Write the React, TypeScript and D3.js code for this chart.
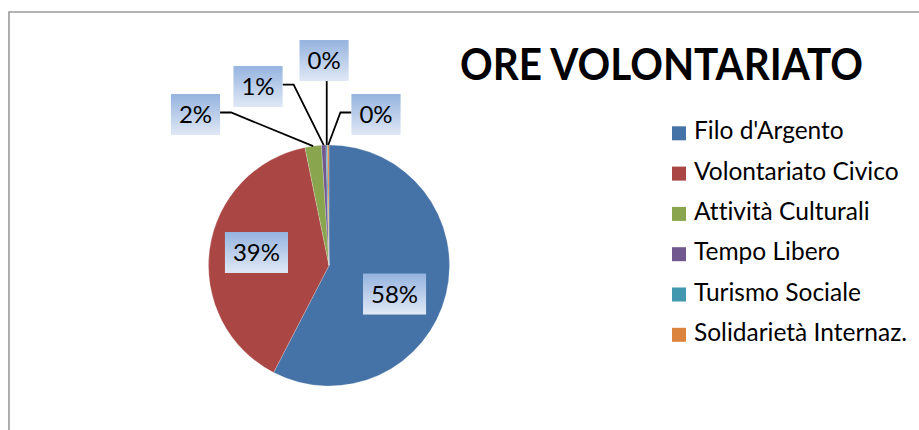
import React, { useMemo } from "react";
import * as d3 from "d3";

const categories = [
  "Filo d'Argento",
  "Volontariato Civico",
  "Attività Culturali",
  "Tempo Libero",
  "Turismo Sociale",
  "Solidarietà Internaz.",
];
const values = [57.6, 39.2, 2.2, 0.6, 0.2, 0.2];
const colors = ["#4572A7", "#AA4643", "#89A54E", "#71588F", "#4198AF", "#DB843D"];
const title = "ORE VOLONTARIATO";

// label box centres relative to pie centre, in units of the radius (layout)
const labelOffsets: [number, number][] = [
  [0.544, 0.237],
  [-0.602, -0.108],
  [-1.108, -1.253],
  [-0.589, -1.485],
  [-0.041, -1.701],
  [0.39, -1.253],
];

const W = 919;
const H = 430;
const FONT = "Lato, 'Open Sans', sans-serif";

function measure(text: string, size: number, weight = "normal") {
  const c = document.createElement("canvas").getContext("2d")!;
  c.font = `${weight} ${size}px Lato, 'Open Sans', sans-serif`;
  return c.measureText(text).width;
}

export default function App() {
  const cx = 329;
  const cy = 265.5;
  const r = 120.5;
  const total = d3.sum(values);

  const arcs = useMemo(
    () =>
      d3
        .pie<number>()
        .sort(null)
        .value((d) => d)(values),
    []
  );
  const arcGen = d3.arc<d3.PieArcDatum<number>>().innerRadius(0).outerRadius(r);

  const labelSize = 24;
  const boxH = 41;

  const labels = arcs.map((a, i) => {
    const txt = `${Math.round((values[i] / total) * 100)}%`;
    const tw = measure(txt, labelSize);
    const bw = Math.max(tw + 16, 49);
    const bx = cx + labelOffsets[i][0] * r;
    const by = cy + labelOffsets[i][1] * r;
    const x0 = bx - bw / 2;
    const x1 = bx + bw / 2;
    const y0 = by - boxH / 2;
    const y1 = by + boxH / 2;
    const mid = (a.startAngle + a.endAngle) / 2;
    const px = cx + Math.sin(mid) * r;
    const py = cy - Math.cos(mid) * r;
    const dist = Math.hypot(bx - cx, by - cy);
    let leader: string | null = null;
    if (dist > r) {
      if (px >= x0 && px <= x1) {
        leader = `M${px},${y1}L${px},${py}`;
      } else if (px > x1) {
        leader = `M${x1},${by - 2}L${x1 + 11},${by - 2}L${px},${py}`;
      } else {
        leader = `M${x0},${by - 2}L${x0 - 11},${by - 2}L${px},${py}`;
      }
    }
    return { txt, bx, by, bw, x0, y0, leader };
  });

  const legendX = 672;
  const legendY0 = 139.3;
  const legendStep = 40.3;

  return (
    <svg
      width={W}
      height={H}
      style={{
        position: "absolute",
        left: 0,
        top: 0,
        background: "#fff",
        fontVariantLigatures: "none",
      }}
      fontFamily={FONT}
    >
      <defs>
        <linearGradient id="lblGrad" x1="0" y1="0" x2="0" y2="1">
          <stop offset="0" stopColor="#95B3DF" />
          <stop offset="1" stopColor="#E0E8F5" />
        </linearGradient>
      </defs>
      <rect width={W} height={H} fill="#fff" />
      <path d={`M9,${H}V12H${W}`} fill="none" stroke="#9a9a9a" strokeWidth={1.6} />

      <g transform={`translate(${cx},${cy})`}>
        {arcs.map((a, i) => (
          <path
            key={i}
            d={arcGen(a) || ""}
            fill={colors[i]}
            stroke="#ffffff"
            strokeOpacity={0.35}
            strokeWidth={0.6}
          />
        ))}
      </g>

      {labels.map((l, i) =>
        l.leader ? (
          <path key={"ld" + i} d={l.leader} fill="none" stroke="#000" strokeWidth={1.8} />
        ) : null
      )}

      {labels.map((l, i) => (
        <g key={"lb" + i}>
          <rect x={l.x0} y={l.y0} width={l.bw} height={boxH} fill="url(#lblGrad)" />
          <text
            x={l.bx}
            y={l.by + labelSize * 0.36}
            textAnchor="middle"
            fontSize={labelSize}
            fill="#000"
          >
            {l.txt}
          </text>
        </g>
      ))}

      <text
        x={460}
        y={80}
        fontSize={44}
        fontWeight="bold"
        fill="#000"
        textLength={403}
        lengthAdjust="spacingAndGlyphs"
      >
        {title}
      </text>

      {categories.map((c, i) => {
        const base = legendY0 + i * legendStep;
        return (
          <g key={"lg" + i}>
            <rect x={legendX} y={base - 13} width={14} height={14} fill={colors[i]} />
            <text x={legendX + 22} y={base} fontSize={24.5} fill="#000">
              {c}
            </text>
          </g>
        );
      })}
    </svg>
  );
}
